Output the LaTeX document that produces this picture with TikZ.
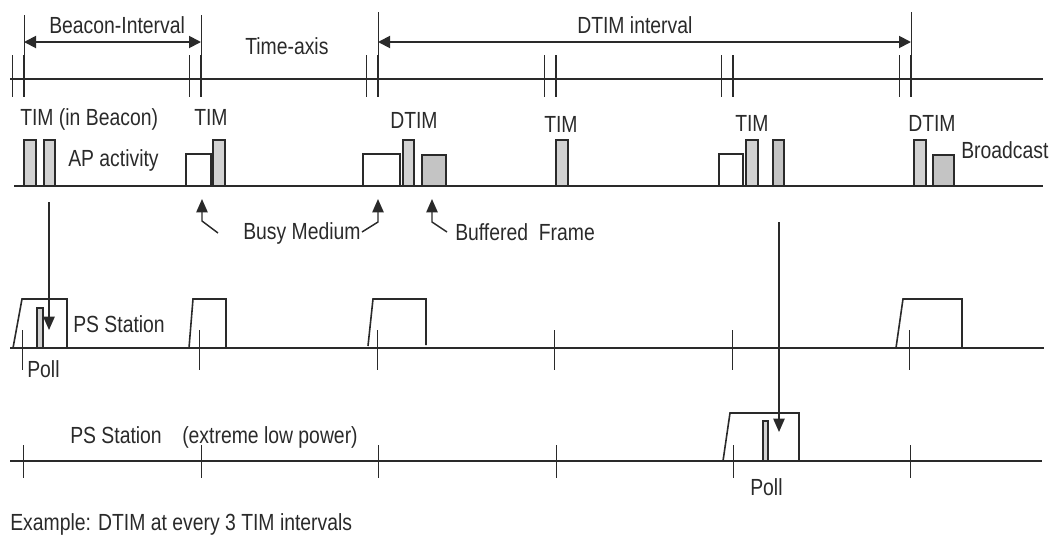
\documentclass[tikz,border=0pt]{standalone}
\usepackage{fontspec}
\setmainfont{Liberation Sans}[FakeStretch=0.83]
\usetikzlibrary{arrows.meta}

\definecolor{ink}{HTML}{2A2A2A}
\definecolor{barlight}{HTML}{D2D2D2}
\definecolor{bardark}{HTML}{C4C4C4}

\begin{document}
\begin{tikzpicture}[x=0.75pt, y=-0.75pt,
  axis/.style={draw=ink, line width=1.4pt},
  thintick/.style={draw=ink, line width=0.75pt},
  thicktick/.style={draw=ink, line width=1.9pt},
  lbl/.style={inner sep=0pt, anchor=base west, text=ink,
              font=\fontsize{17.5}{20}\selectfont},
  framebox/.style={draw=ink, line width=0.8pt},
  beaconbar/.style={framebox, fill=barlight},
  bufbar/.style={framebox, fill=bardark},
  busybox/.style={framebox, fill=white},
  wake/.style={draw=ink, line width=1.2pt},
  pointer/.style={draw=ink, line width=1.1pt, -{Triangle[length=10pt,width=8.5pt]}},
  span/.style={draw=ink, line width=1.4pt,
               {Triangle[length=9pt,width=9pt]}-{Triangle[length=9pt,width=9pt]}}
]
\useasboundingbox (0,0) rectangle (1050,540);

% ---------------- time axis ----------------
\draw[axis] (10,79) -- (1043,79);
\foreach \x in {24,201,378,556,733,911} {
  \draw[thicktick] (\x,55) -- (\x,97);
  \draw[thintick] (\x-12,55) -- (\x-12,97);
}
% interval marker lines
\draw[thintick] (24,15) -- (24,55);
\draw[thintick] (201,15) -- (201,55);
\draw[thintick] (378,12) -- (378,55);
\draw[thintick] (911,12) -- (911,55);

\coordinate (bi1) at (24,42);
\coordinate (bi2) at (201,42);
\coordinate (di1) at (378,42);
\coordinate (di2) at (911,42);
\draw[span] (bi1) -- (bi2);
\draw[span] (di1) -- (di2);

\node[lbl] (tBeacon) at (49,33) {Beacon-Interval};
\node[lbl] (tAxis) at (245,54) {Time-axis};
\node[lbl] (tDtim) at (577,33) {DTIM interval};

% ---------------- AP activity ----------------
\draw[axis] (14,186) -- (1043,186);

% busy medium
\foreach \a/\b in {186/211, 363/400, 719/743}
  \draw[busybox] (\a,154) rectangle (\b,186);
% TIM / DTIM beacons
\foreach \a/\b in {24/36, 44/55, 213/225, 403/414, 556/568, 746/758, 914/926}
  \draw[beaconbar] (\a,140) rectangle (\b,186);
% buffered / broadcast frames
\draw[bufbar] (422,155) rectangle (446,186);
\draw[bufbar] (773,140) rectangle (784,186);
\draw[bufbar] (933,155) rectangle (954,186);

\node[lbl] (lTim0) at (20,125) {TIM (in Beacon)};
\node[lbl] (lTim1) at (194,125) {TIM};
\node[lbl] (lDtim1) at (390,128) {DTIM};
\node[lbl] (lTim2) at (544,132) {TIM};
\node[lbl] (lTim3) at (735,131) {TIM};
\node[lbl] (lDtim2) at (908,131) {DTIM};
\node[lbl] (lBroad) at (961,158) {Broadcast};
\node[lbl] (lAP) at (68,166) {AP activity};

% busy medium / buffered frame pointers
\node[lbl] (lBusy) at (243,239) {Busy Medium};
\node[lbl] (lBuf) at (455,240) {Buffered\ \ Frame};
\coordinate (p1s) at (218,233);
\coordinate (p1k) at (202,221);
\coordinate (p1t) at (202,199);
\coordinate (p2s) at (362,232);
\coordinate (p2k) at (378,222);
\coordinate (p2t) at (378,199);
\coordinate (p3s) at (447,232);
\coordinate (p3k) at (432,222);
\coordinate (p3t) at (432,199);
\draw[pointer] (p1s) -- (p1k) -- (p1t);
\draw[pointer] (p2s) -- (p2k) -- (p2t);
\draw[pointer] (p3s) -- (p3k) -- (p3t);

% ---------------- PS station ----------------
\draw[axis] (10,348) -- (1044,348);
\foreach \x in {22,199,377,554,732,909}
  \draw[thintick] (\x,330) -- (\x,370);
\draw[wake] (13,348) -- (22,299) -- (67,299) -- (67,348);
\draw[wake] (189,348) -- (193,299) -- (226,299) -- (226,348);
\draw[wake] (368,346) -- (373,299) -- (426,299) -- (426,345);
\draw[wake] (896,348) -- (903,299) -- (962,299) -- (962,348);
\draw[beaconbar] (37,308) rectangle (43,348);

\node[lbl] (lPS1) at (73,332) {PS Station};
\node[lbl] (lPoll1) at (27,377) {Poll};

% ---------------- PS station, extreme low power ----------------
\draw[axis] (10,461) -- (1042,461);
\foreach \x in {23,201,378,556,733,910}
  \draw[thintick] (\x,445) -- (\x,478);
\draw[wake] (723,461) -- (730,413) -- (799,413) -- (799,461);
\draw[beaconbar] (763,421) rectangle (768,461);

\node[lbl] (lPS2) at (70,443) {PS Station};
\node[lbl] (lLow) at (182,443) {(extreme low power)};
\node[lbl] (lPoll2) at (750,495) {Poll};

% TIM indications to the stations
\coordinate (w1s) at (49,202);
\coordinate (w1t) at (49,330);
\coordinate (w2s) at (779,222);
\coordinate (w2t) at (779,432);
\draw[pointer] (w1s) -- (w1t);
\draw[pointer] (w2s) -- (w2t);

\node[lbl] (lEx) at (10,530) {Example: DTIM at every 3 TIM intervals};
\end{tikzpicture}
\end{document}
